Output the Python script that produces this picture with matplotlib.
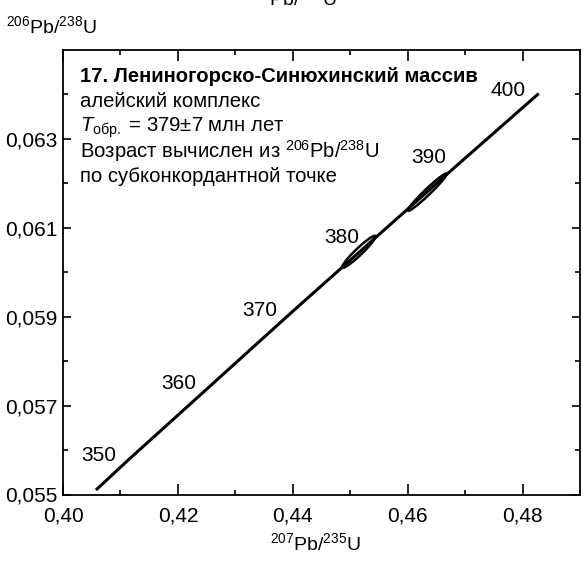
"""
U-Pb concordia diagram: Leninogorsk-Sinyukha massif sample.
"""

import numpy as np
import matplotlib
matplotlib.use("Agg")
import matplotlib.pyplot as plt
from matplotlib.ticker import MultipleLocator, FixedLocator, FuncFormatter

plt.rcParams["font.family"] = ["Liberation Sans", "DejaVu Sans"]
plt.rcParams["mathtext.fontset"] = "custom"
plt.rcParams["mathtext.rm"] = "Liberation Sans"
plt.rcParams["mathtext.it"] = "Liberation Sans:italic"
plt.rcParams["mathtext.bf"] = "Liberation Sans:bold"

# Concordia points (age, Ma) -> 207Pb/235U, 206Pb/238U
conc_age = [345.8, 350, 360, 370, 380, 390, 400]
conc_x = [0.40573, 0.41156, 0.42553, 0.43964, 0.45389, 0.46828, 0.48281]
conc_y = [0.05510, 0.05580, 0.05743, 0.05908, 0.06072, 0.06237, 0.06402]

# ages that get a label on the concordia
label_ages = [350, 360, 370, 380, 390, 400]

# analysis error ellipses: centre, half-extent and correlation
ell_x = [0.4515, 0.4634]
ell_dx = [0.00290, 0.00338]
ell_y = [0.06046, 0.06180]
ell_dy = [0.00036, 0.00042]
ell_rho = [0.955, 0.975]

x_ticks = [0.40, 0.42, 0.44, 0.46, 0.48]
y_ticks = [0.055, 0.057, 0.059, 0.061, 0.063]

info_lines = [
    ("17. Лениногорско-Синюхинский массив", "bold"),
    ("алейский комплекс", "normal"),
    (r"$\mathit{T}_{\mathrm{обр.}}$ = 379±7 млн лет", "normal"),
    (r"Возраст вычислен из $^{206}$Pb/$^{238}$U", "normal"),
    ("по субконкордантной точке", "normal"),
]
# baselines of the info lines, px from the top
info_base = [82, 107, 132, 158, 182]

W, H = 583, 561
fig = plt.figure(figsize=(W / 100, H / 100), dpi=100)
ax = fig.add_axes([63 / W, (H - 494.5) / H, 517 / W, 444.5 / H])

ax.set_xlim(0.40, 0.49)
ax.set_ylim(0.055, 0.065)

# concordia curve
ax.plot(conc_x, conc_y, color="black", lw=2.2, solid_capstyle="butt")

# age labels, set a little up-left of each concordia point
for age in label_ages:
    i = conc_age.index(age)
    dx, dy = (-26, 9) if age == 390 else (-31, 3)
    ax.annotate(str(age), (conc_x[i], conc_y[i]), xytext=(dx, dy),
                textcoords="offset pixels", ha="center", va="center",
                fontsize=15)

# error ellipses
t = np.linspace(0, 2 * np.pi, 200)
for cx, ax_, cy, ay, rho in zip(ell_x, ell_dx, ell_y, ell_dy, ell_rho):
    d = np.arccos(rho)
    ax.plot(cx + ax_ * np.cos(t), cy + ay * np.cos(t - d),
            color="black", lw=1.8)

# axes styling
for s in ax.spines.values():
    s.set_linewidth(1.3)

ax.xaxis.set_major_locator(FixedLocator(x_ticks))
ax.xaxis.set_minor_locator(MultipleLocator(0.01))
ax.yaxis.set_major_locator(FixedLocator(y_ticks))
ax.yaxis.set_minor_locator(FixedLocator([0.056, 0.058, 0.060, 0.062, 0.064]))
ax.xaxis.set_major_formatter(FuncFormatter(lambda v, p: f"{v:.2f}".replace(".", ",")))
ax.yaxis.set_major_formatter(FuncFormatter(lambda v, p: f"{v:.3f}".replace(".", ",")))

ax.tick_params(axis="both", which="both", direction="in",
               top=True, right=True, width=1.2, labelsize=15)
ax.tick_params(axis="x", which="major", length=8, pad=9)
ax.tick_params(axis="y", which="major", length=6, pad=4)
ax.tick_params(axis="both", which="minor", length=3.5)

# sample information block
for (line, weight), base in zip(info_lines, info_base):
    fig.text(80 / W, 1 - base / H, line, fontsize=14.6,
             fontweight=weight, va="baseline", ha="left")

# axis titles
fig.text(6 / W, 1 - 33 / H, r"$^{206}$Pb/$^{238}$U", fontsize=14,
         va="baseline", ha="left")
fig.text(315 / W, 1 - 550 / H, r"$^{207}$Pb/$^{235}$U", fontsize=14,
         va="baseline", ha="center")
# x title of the diagram above, cut by the page edge
fig.text(291 / W, 1 - 5 / H, r"$^{207}$Pb/$^{235}$U", fontsize=14,
         va="baseline", ha="center")

fig.savefig("out.png", dpi=100)
